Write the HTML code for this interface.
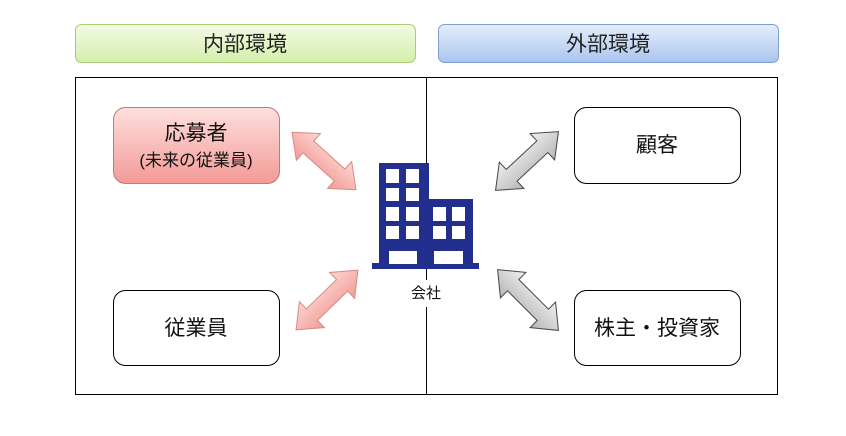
<!DOCTYPE html>
<html><head><meta charset="utf-8"><style>
body{margin:0;background:#fff;}
svg text{font-family:"Liberation Sans","Noto Sans CJK JP",sans-serif;}
</style></head><body>
<svg width="846" height="431" viewBox="0 0 846 431" xmlns="http://www.w3.org/2000/svg">
<defs>
<linearGradient id="g" x1="0" y1="0" x2="0" y2="1"><stop offset="0" stop-color="#f3fbe6"/><stop offset="1" stop-color="#d3eeaa"/></linearGradient>
<linearGradient id="b" x1="0" y1="0" x2="0" y2="1"><stop offset="0" stop-color="#e6eefb"/><stop offset="1" stop-color="#a9c5ef"/></linearGradient>
<linearGradient id="p" x1="0" y1="0" x2="0" y2="1"><stop offset="0" stop-color="#fde0de"/><stop offset="1" stop-color="#f49a96"/></linearGradient>
<linearGradient id="pa" x1="0" y1="0" x2="0" y2="1"><stop offset="0" stop-color="#fcd6d3"/><stop offset="1" stop-color="#f29b96"/></linearGradient>
<linearGradient id="ga" x1="0" y1="0" x2="0" y2="1"><stop offset="0" stop-color="#f0f0f0"/><stop offset="1" stop-color="#b5b5b5"/></linearGradient>
</defs>
<rect x="75.5" y="24.5" width="340" height="38" rx="6" fill="url(#g)" stroke="#a8cc78"/>
<text x="245" y="51" font-size="21" text-anchor="middle" fill="#222">内部環境</text>
<rect x="438.5" y="24.5" width="340" height="38" rx="6" fill="url(#b)" stroke="#7f9fd0"/>
<text x="608" y="51" font-size="21" text-anchor="middle" fill="#222">外部環境</text>
<rect x="75.5" y="77.5" width="702" height="317" fill="none" stroke="#000"/>
<line x1="426.5" y1="77" x2="426.5" y2="280" stroke="#000"/>
<line x1="426.5" y1="307" x2="426.5" y2="395" stroke="#000"/>
<rect x="113.5" y="107.5" width="166" height="76" rx="12" fill="url(#p)" stroke="#c07a77"/>
<text x="196" y="140" font-size="21" text-anchor="middle" fill="#111">応募者</text>
<text x="196" y="166" font-size="17" text-anchor="middle" fill="#111">(未来の従業員)</text>
<rect x="113.5" y="290.5" width="166" height="75" rx="12" fill="#fff" stroke="#000"/>
<text x="196" y="335" font-size="21" text-anchor="middle" fill="#111">従業員</text>
<rect x="574.5" y="107.5" width="166" height="76" rx="12" fill="#fff" stroke="#000"/>
<text x="657" y="152" font-size="21" text-anchor="middle" fill="#111">顧客</text>
<rect x="574.5" y="290.5" width="166" height="75" rx="12" fill="#fff" stroke="#000"/>
<text x="657" y="335" font-size="21" text-anchor="middle" fill="#111">株主・投資家</text>
<g fill="#232f8e">
<rect x="379" y="163" width="50" height="102"/>
<rect x="428" y="199" width="45" height="66"/>
<rect x="372" y="263" width="107" height="6"/>
</g>
<g fill="#fff">
<rect x="386" y="169" width="13" height="14"/><rect x="406" y="169" width="13" height="14"/>
<rect x="386" y="188" width="13" height="13"/><rect x="406" y="188" width="13" height="13"/>
<rect x="386" y="207" width="13" height="14"/><rect x="406" y="207" width="13" height="14"/>
<rect x="386" y="226" width="13" height="13"/><rect x="406" y="226" width="13" height="13"/>
<rect x="389" y="251" width="28" height="13"/>
<rect x="433" y="207" width="13" height="14"/><rect x="452" y="207" width="13" height="14"/>
<rect x="433" y="226" width="13" height="13"/><rect x="452" y="226" width="13" height="13"/>
<rect x="434" y="251" width="29" height="13"/>
</g>
<text x="426" y="298" font-size="15" text-anchor="middle" fill="#111">会社</text>
<g stroke-width="1">
<polygon transform="translate(324,161) rotate(42)" points="-43,0 -21,-18 -21,-8 21,-8 21,-18 43,0 21,18 21,8 -21,8 -21,18" fill="url(#pa)" stroke="#d88a86"/>
<polygon transform="translate(327,300) rotate(-44)" points="-43,0 -21,-18 -21,-8 21,-8 21,-18 43,0 21,18 21,8 -21,8 -21,18" fill="url(#pa)" stroke="#d88a86"/>
<polygon transform="translate(527,161) rotate(-43)" points="-43,0 -21,-18 -21,-8 21,-8 21,-18 43,0 21,18 21,8 -21,8 -21,18" fill="url(#ga)" stroke="#444"/>
<polygon transform="translate(528,300) rotate(45)" points="-43,0 -21,-18 -21,-8 21,-8 21,-18 43,0 21,18 21,8 -21,8 -21,18" fill="url(#ga)" stroke="#444"/>
</g>
</svg>
</body></html>
